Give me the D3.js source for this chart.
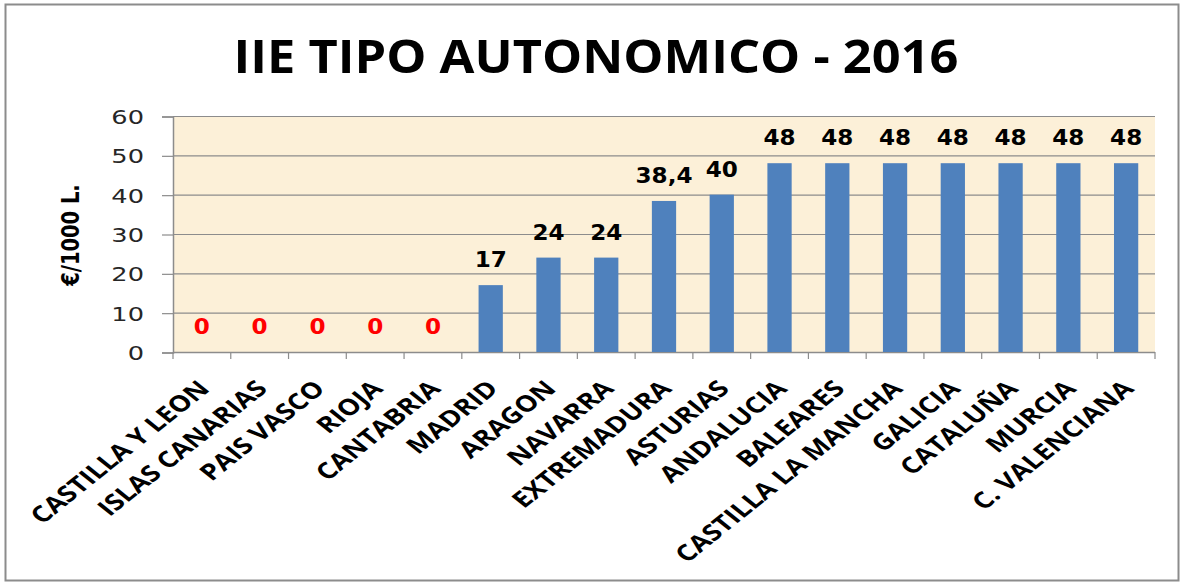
<!DOCTYPE html>
<html>
<head>
<meta charset="utf-8">
<script src="https://cdn.jsdelivr.net/npm/d3@7"></script>
<style>
  body { margin: 0; background: #fff; }
</style>
</head>
<body>
<div class="canvas"></div>
<script>
const regions = ['CASTILLA Y LEON', 'ISLAS CANARIAS', 'PAIS VASCO', 'RIOJA', 'CANTABRIA', 'MADRID', 'ARAGON',
    'NAVARRA', 'EXTREMADURA', 'ASTURIAS', 'ANDALUCIA', 'BALEARES', 'CASTILLA LA MANCHA', 'GALICIA',
    'CATALUÑA', 'MURCIA', 'C. VALENCIANA'];
const values = [0, 0, 0, 0, 0, 17, 24, 24, 38.4, 40, 48, 48, 48, 48, 48, 48, 48];
const yTicks = [0, 10, 20, 30, 40, 50, 60];

const dims = { width: 1190, height: 583 };
const plot = { left: 173, right: 1155, top: 116, bottom: 352 };
// the source picture is stretched sideways, so text gets the same squash
const stretch = 1.25;

const svg = d3.select('.canvas')
    .append('svg')
    .attr('width', dims.width)
    .attr('height', dims.height);

// chart border
svg.append('rect')
    .attr('x', 5.5).attr('y', 4.5)
    .attr('width', 1173).attr('height', 576)
    .attr('fill', '#fff')
    .attr('stroke', '#8c8c8c')
    .attr('stroke-width', 2);

const x = d3.scaleBand()
    .domain(regions)
    .range([plot.left, plot.right])
    .paddingInner(0.58)
    .paddingOuter(0.29);

const xEdges = d3.scaleLinear().domain([0, regions.length]).range([plot.left, plot.right]);

const y = d3.scaleLinear()
    .domain([0, 60])
    .range([plot.bottom, plot.top]);

// plot background
svg.append('rect')
    .attr('x', plot.left).attr('y', plot.top)
    .attr('width', plot.right - plot.left)
    .attr('height', plot.bottom - plot.top)
    .attr('fill', '#fcf0d8');

// gridlines
svg.append('g')
    .selectAll('line')
    .data(yTicks.slice(1))
    .enter()
    .append('line')
        .attr('x1', plot.left).attr('x2', plot.right)
        .attr('y1', d => y(d) + 0.5).attr('y2', d => y(d) + 0.5)
        .attr('stroke', '#8c8c8c')
        .attr('stroke-width', 1.2);

// y axis
const yAxis = d3.axisLeft(y)
    .tickValues(yTicks)
    .tickSize(11)
    .tickPadding(12);

const yG = svg.append('g')
    .attr('transform', `translate(${plot.left}, 0.5)`)
    .call(yAxis);

yG.select('.domain').attr('stroke', '#8c8c8c').attr('stroke-width', 1.5);
yG.selectAll('.tick line').attr('stroke', '#8c8c8c').attr('stroke-width', 1.2);
yG.selectAll('.tick text')
    .attr('font-family', 'DejaVu Sans')
    .attr('font-size', 19)
    .attr('fill', '#262626')
    .attr('x', -29 / 1.35)
    .attr('dy', '0.36em')
    .attr('transform', 'scale(1.35,1)');

// x axis line and tick marks at category edges
svg.append('line')
    .attr('x1', plot.left).attr('x2', plot.right)
    .attr('y1', plot.bottom + 0.5).attr('y2', plot.bottom + 0.5)
    .attr('stroke', '#8c8c8c')
    .attr('stroke-width', 1.5);

svg.append('g')
    .selectAll('line')
    .data(d3.range(regions.length + 1))
    .enter()
    .append('line')
        .attr('x1', d => xEdges(d)).attr('x2', d => xEdges(d))
        .attr('y1', plot.bottom).attr('y2', plot.bottom + 7)
        .attr('stroke', '#8c8c8c')
        .attr('stroke-width', 1.2);

// bars
svg.append('g')
    .selectAll('rect')
    .data(values)
    .enter()
    .append('rect')
        .attr('x', (d, i) => x(regions[i]))
        .attr('y', d => y(d))
        .attr('width', x.bandwidth())
        .attr('height', d => plot.bottom - y(d))
        .attr('fill', '#4f81bd');

// value labels
svg.append('g')
    .selectAll('text')
    .data(values)
    .enter()
    .append('text')
        .attr('transform', (d, i) =>
            `translate(${x(regions[i]) + x.bandwidth() / 2}, ${y(d) - 18}) scale(1.1,1)`)
        .attr('text-anchor', 'middle')
        .attr('font-family', 'DejaVu Sans')
        .attr('font-weight', 'bold')
        .attr('font-size', 21)
        .attr('fill', d => d === 0 ? '#ff0000' : '#000')
        .text(d => String(d).replace('.', ','));

// category labels
svg.append('g')
    .selectAll('text')
    .data(regions)
    .enter()
    .append('text')
        .attr('transform', d =>
            `translate(${x(d) + x.bandwidth() / 2 + 9}, 390) scale(${stretch},1) rotate(-45)`)
        .attr('text-anchor', 'end')
        .attr('font-family', 'Open Sans')
        .attr('font-weight', 'bold')
        .attr('font-size', 22.5)
        .attr('fill', '#000')
        .text(d => d);

// y axis title
svg.append('text')
    .attr('transform', `translate(79, 235) scale(${stretch},1) rotate(-90)`)
    .attr('text-anchor', 'middle')
    .attr('font-family', 'DejaVu Sans')
    .attr('font-weight', 'bold')
    .attr('font-size', 19.5)
    .text('€/1000 L.');

// title
svg.append('text')
    .attr('x', 596)
    .attr('y', 73)
    .attr('text-anchor', 'middle')
    .attr('font-family', 'Open Sans')
    .attr('font-weight', 'bold')
    .attr('font-size', 46)
    .attr('textLength', 725)
    .attr('lengthAdjust', 'spacingAndGlyphs')
    .text('IIE TIPO AUTONOMICO - 2016');
</script>
</body>
</html>
